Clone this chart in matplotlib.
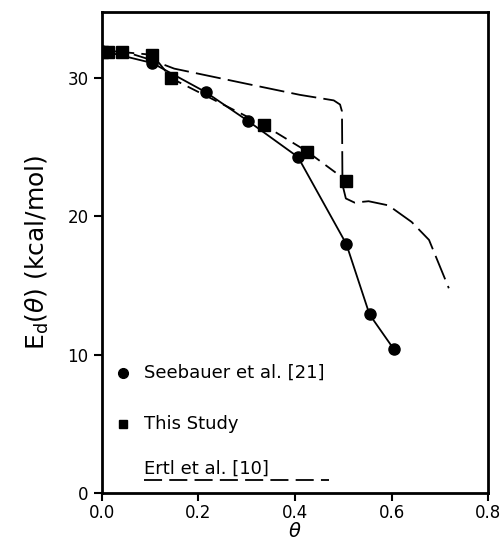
import numpy as np
import matplotlib.pyplot as plt

plt.rcParams["font.family"] = ["DejaVu Sans"]
plt.rcParams["mathtext.fontset"] = "dejavusans"

# Seebauer et al. [21] (circles)
seeb_theta = [0.0, 0.105, 0.215, 0.303, 0.406, 0.506, 0.554, 0.604]
seeb_ed = [32.0, 31.1, 29.0, 26.9, 24.3, 18.0, 12.9, 10.4]

# This study (squares)
study_theta = [0.0, 0.012, 0.042, 0.105, 0.144, 0.336, 0.425, 0.506]
study_ed = [31.9, 31.9, 31.9, 31.7, 30.0, 26.6, 24.7, 22.6]

# Ertl et al. [10] (dashed curve)
ertl_theta = [0.0, 0.05, 0.105, 0.15, 0.3, 0.41, 0.48, 0.493, 0.497, 0.498,
              0.505, 0.523, 0.552, 0.593, 0.641, 0.677, 0.718]
ertl_ed = [32.0, 31.9, 31.3, 30.7, 29.6, 28.8, 28.4, 28.1, 27.6, 22.3,
           21.3, 21.0, 21.1, 20.8, 19.6, 18.3, 14.8]

fig = plt.figure(figsize=(5.01, 5.45), dpi=100)
ax = fig.add_axes([0.203, 0.096, 0.772, 0.882])

ax.plot(ertl_theta, ertl_ed, color="black", lw=1.3, dashes=(14, 4))
ax.plot(study_theta, study_ed, color="black", lw=1.3, dashes=(7, 4),
        marker="s", ms=8, mfc="black", mec="black")
ax.plot(seeb_theta, seeb_ed, color="black", lw=1.3,
        marker="o", ms=8, mfc="black", mec="black")

ax.set_xlim(0, 0.8)
ax.set_ylim(0, 34.8)
ax.set_xticks([0.0, 0.2, 0.4, 0.6, 0.8])
ax.set_xticklabels(["0.0", "0.2", "0.4", "0.6", "0.8"])
ax.set_yticks([0, 10, 20, 30])
ax.tick_params(direction="out", length=6, width=1.5, labelsize=12)
ax.tick_params(axis="x", pad=2)
for s in ax.spines.values():
    s.set_linewidth(2)

ax.set_xlabel(r"$\theta$", fontsize=14, labelpad=0)
ax.set_ylabel(r"E$_\mathrm{d}$($\theta$) (kcal/mol)", fontsize=18, labelpad=12)

# legend drawn by hand
ax.plot([0.044], [8.7], "o", color="black", ms=7)
ax.text(0.088, 8.7, "Seebauer et al. [21]", fontsize=13, va="center")
ax.plot([0.044], [5.0], "s", color="black", ms=6)
ax.text(0.088, 5.0, "This Study", fontsize=13, va="center")
ax.text(0.088, 1.7, "Ertl et al. [10]", fontsize=13, va="center")
ax.plot([0.088, 0.47], [0.95, 0.95], color="black", lw=1.3, dashes=(10, 4))

fig.savefig("out.png", dpi=100)
